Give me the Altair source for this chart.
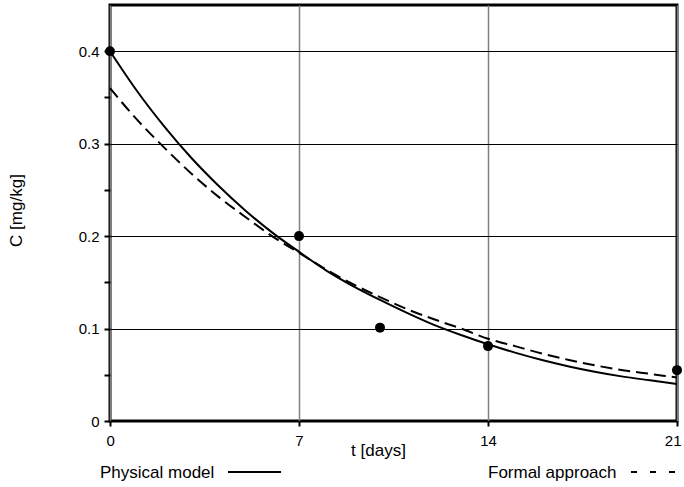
import altair as alt
import pandas as pd

# measured points
meas_t = [0, 7, 10, 14, 21]
meas_c = [0.400, 0.200, 0.101, 0.081, 0.055]

# model curves at each day
curve_t = list(range(22))
physical = [0.400, 0.357, 0.319, 0.285, 0.255, 0.228, 0.204, 0.183, 0.163,
            0.146, 0.131, 0.117, 0.104, 0.093, 0.083, 0.074, 0.066, 0.059,
            0.053, 0.048, 0.044, 0.040]
formal = [0.360, 0.326, 0.296, 0.268, 0.243, 0.221, 0.200, 0.182, 0.164,
          0.148, 0.134, 0.121, 0.110, 0.100, 0.089, 0.081, 0.073, 0.066,
          0.060, 0.055, 0.051, 0.047]

x_ticks = [0, 7, 14, 21]
y_ticks = [0, 0.05, 0.1, 0.15, 0.2, 0.25, 0.3, 0.35, 0.4]

FONT = "Liberation Sans"

pts = pd.DataFrame({"t": meas_t, "c": meas_c})
curves = pd.DataFrame({
    "t": curve_t + curve_t,
    "c": physical + formal,
    "model": ["Physical model"] * len(curve_t) + ["Formal approach"] * len(curve_t),
})

x_enc = alt.X("t:Q", scale=alt.Scale(domain=[0, 21], nice=False, zero=False),
              axis=alt.Axis(values=x_ticks, title="t [days]", grid=True,
                            gridColor="#808080", gridWidth=1.5, domain=False,
                            tickColor="black", tickSize=5, tickWidth=2,
                            labelFlush=True, labelFlushOffset=4,
                            labelPadding=7, labelFontSize=15, labelFont=FONT,
                            labelColor="black",
                            titleFont=FONT, titleFontSize=17, titleFontWeight="normal",
                            titleColor="black", titleX=268, titleY=29,
                            titleBaseline="middle", titleAlign="center"))
y_enc = alt.Y("c:Q", scale=alt.Scale(domain=[0, 0.45], nice=False),
              axis=alt.Axis(values=y_ticks, title="C [mg/kg]", grid=True,
                            gridColor="black", gridWidth=1,
                            gridOpacity={"condition": {"test": "round(datum.value*100) % 10 == 5", "value": 0}, "value": 1},
                            domain=False, tickColor="black", tickSize=6, tickWidth=2,
                            format=".1~f", labelFlush=False,
                            labelExpr="round(datum.value*100) % 10 == 5 ? '' : datum.label",
                            labelPadding=5, labelFontSize=15, labelFont=FONT,
                            labelColor="black",
                            titleFont=FONT, titleFontSize=17, titleFontWeight="normal",
                            titleColor="black", titleX=-94, titleY=205, titleAngle=-90,
                            titleBaseline="middle", titleAlign="center"))

phys_line = alt.Chart(curves).transform_filter(alt.datum.model == "Physical model").mark_line(
    color="black", strokeWidth=2, interpolate="monotone").encode(x=x_enc, y=y_enc)
form_line = alt.Chart(curves).transform_filter(alt.datum.model == "Formal approach").mark_line(
    color="black", strokeWidth=2, strokeDash=[12, 6], interpolate="monotone").encode(x="t:Q", y="c:Q")
points = alt.Chart(pts).mark_circle(color="black", size=100, opacity=1).encode(x="t:Q", y="c:Q")

leg1_text = alt.Chart(pd.DataFrame({"label": ["Physical model"]})).mark_text(
    align="left", baseline="middle", font=FONT, fontSize=17, color="black").encode(
    text="label:N", x=alt.value(-10), y=alt.value(468))
leg1_line = alt.Chart(pd.DataFrame({"label": ["Physical model"]})).mark_rule(
    color="black", strokeWidth=2).encode(x=alt.value(118), x2=alt.value(171), y=alt.value(467))
leg2_text = alt.Chart(pd.DataFrame({"label": ["Formal approach"]})).mark_text(
    align="left", baseline="middle", font=FONT, fontSize=17, color="black").encode(
    text="label:N", x=alt.value(378), y=alt.value(468))
leg2_line = alt.Chart(pd.DataFrame({"label": ["Formal approach"]})).mark_rule(
    color="black", strokeWidth=2, strokeDash=[6, 13]).encode(x=alt.value(521), x2=alt.value(568), y=alt.value(467))

chart = alt.layer(phys_line, form_line, points, leg1_text, leg1_line, leg2_text, leg2_line).properties(
    width=567, height=416,
    autosize=alt.AutoSizeParams(type="none"),
    padding={"left": 110, "top": 5, "right": 7, "bottom": 66},
).configure_view(stroke="black", strokeWidth=3)

chart.save("out.html", embed_options={"renderer": "svg", "actions": False})
